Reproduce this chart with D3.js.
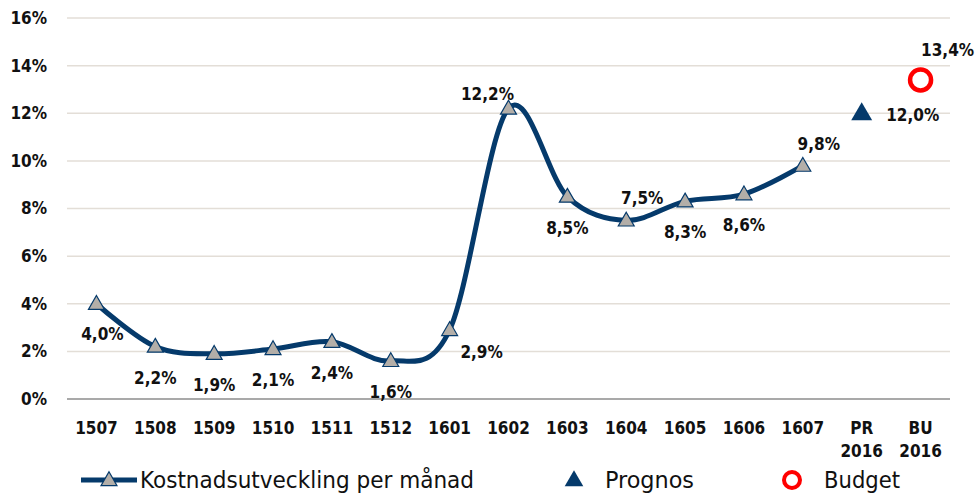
<!DOCTYPE html>
<html>
<head>
<meta charset="utf-8">
<script src="https://cdn.jsdelivr.net/npm/d3@7"></script>
<style>
  body { margin: 0; background: #fff; }
  text { font-family: "DejaVu Sans Condensed", "Liberation Sans Narrow", "Open Sans", sans-serif; }
</style>
</head>
<body>
<svg id="chart" width="976" height="495"></svg>
<script>
// categories (x axis), second line of label after "|"
var categories = ['1507','1508','1509','1510','1511','1512','1601','1602','1603','1604','1605','1606','1607','PR|2016','BU|2016'];
// monthly cost development, % (series 1)
var monthly = [4.0, 2.2, 1.9, 2.1, 2.4, 1.6, 2.9, 12.2, 8.5, 7.5, 8.3, 8.6, 9.8];
var prognos = 12.0;
var budget = 13.4;
var yTicks = [0, 2, 4, 6, 8, 10, 12, 14, 16];
// where each monthly label sits relative to its point
var labelPlace = ['bl','b','b','b','b','b','br','tl','b','tr','b','b','tr'];

var svg = d3.select('#chart');
var margin = {top: 18, right: 26, bottom: 96, left: 67};
var width = 976 - margin.left - margin.right;
var height = 495 - margin.top - margin.bottom;
var g = svg.append('g').attr('transform', 'translate(' + margin.left + ',' + margin.top + ')');

var x = d3.scaleBand().domain(categories).range([0, width]);
var y = d3.scaleLinear().domain([0, 16]).range([height, 0]);
var cx = function(i){ return x(categories[i]) + x.bandwidth() / 2; };
var fmt = function(v){ return v.toFixed(1).replace('.', ',') + '%'; };

// gridlines
g.selectAll('.grid').data(yTicks.filter(function(d){ return d > 0; }))
  .enter().append('line')
  .attr('x1', 0).attr('x2', width)
  .attr('y1', function(d){ return y(d); }).attr('y2', function(d){ return y(d); })
  .style('stroke', '#e3ded7').style('stroke-width', 1.5);

g.append('line').attr('x1', 0).attr('x2', width).attr('y1', y(0)).attr('y2', y(0))
  .style('stroke', '#8c8c8c').style('stroke-width', 1.5);

// y labels
g.selectAll('.ylab').data(yTicks).enter().append('text')
  .attr('x', -20).attr('y', function(d){ return y(d); })
  .attr('dy', '0.35em').attr('text-anchor', 'end')
  .style('font-weight', 'bold').style('font-size', '17px').style('fill', '#111')
  .text(function(d){ return d + '%'; });

// x labels
var xl = g.selectAll('.xlab').data(categories).enter().append('text')
  .attr('text-anchor', 'middle')
  .style('font-weight', 'bold').style('font-size', '17px').style('fill', '#111');
xl.each(function(d, i){
  var parts = d.split('|');
  var t = d3.select(this);
  parts.forEach(function(p, k){
    t.append('tspan').attr('x', cx(i)).attr('y', height + 35 + k * 23).text(p);
  });
});

// line
var line = d3.line()
  .x(function(d, i){ return cx(i); })
  .y(function(d){ return y(d); })
  .curve(d3.curveCatmullRom.alpha(0));
g.append('path').datum(monthly).attr('d', line)
  .style('fill', 'none').style('stroke', '#053a6b').style('stroke-width', 5);

var tri = d3.symbol().type(d3.symbolTriangle);
g.selectAll('.mk').data(monthly).enter().append('path')
  .attr('d', tri.size(110)())
  .attr('transform', function(d, i){ return 'translate(' + cx(i) + ',' + (y(d) + 1) + ')'; })
  .style('fill', '#b3aea8').style('stroke', '#053a6b').style('stroke-width', 1.2);

var offs = {b: [0, 31], bl: [6, 30], br: [32, 22], tl: [-21, -14], tr: [16, -22]};
g.selectAll('.lab').data(monthly).enter().append('text')
  .attr('x', function(d, i){ return cx(i) + offs[labelPlace[i]][0]; })
  .attr('y', function(d, i){ return y(d) + offs[labelPlace[i]][1]; })
  .attr('dy', '0.35em').attr('text-anchor', 'middle')
  .style('font-weight', 'bold').style('font-size', '17px').style('fill', '#111')
  .text(function(d){ return fmt(d); });

// prognos
g.append('path').attr('d', tri.size(190)())
  .attr('transform', 'translate(' + cx(13) + ',' + (y(prognos) + 1) + ')')
  .style('fill', '#053a6b');
g.append('text').attr('x', cx(13) + 51).attr('y', y(prognos) + 2).attr('dy', '0.35em')
  .attr('text-anchor', 'middle').style('font-weight', 'bold').style('font-size', '17px').style('fill', '#111')
  .text(fmt(prognos));

// budget
g.append('circle').attr('cx', cx(14)).attr('cy', y(budget)).attr('r', 10.5)
  .style('fill', '#fff').style('stroke', '#ff0000').style('stroke-width', 4.5);
g.append('text').attr('x', cx(14) + 27).attr('y', y(budget) - 30).attr('dy', '0.35em')
  .attr('text-anchor', 'middle').style('font-weight', 'bold').style('font-size', '17px').style('fill', '#111')
  .text(fmt(budget));

// legend
var lg = svg.append('g').attr('transform', 'translate(0,480)');
lg.append('line').attr('x1', 81).attr('x2', 137).attr('y1', 0).attr('y2', 0)
  .style('stroke', '#053a6b').style('stroke-width', 5);
lg.append('path').attr('d', tri.size(110)()).attr('transform', 'translate(109,1)')
  .style('fill', '#b3aea8').style('stroke', '#053a6b').style('stroke-width', 1.2);
lg.append('text').attr('x', 140).attr('y', 0).attr('dy', '0.35em')
  .attr('textLength', 334).attr('lengthAdjust', 'spacingAndGlyphs')
  .style('font-size', '23px').style('fill', '#111').text('Kostnadsutveckling per månad');
lg.append('path').attr('d', tri.size(150)()).attr('transform', 'translate(574,1)')
  .style('fill', '#053a6b');
lg.append('text').attr('x', 605).attr('y', 0).attr('dy', '0.35em')
  .attr('textLength', 89).attr('lengthAdjust', 'spacingAndGlyphs')
  .style('font-size', '23px').style('fill', '#111').text('Prognos');
lg.append('circle').attr('cx', 792).attr('cy', 0).attr('r', 8)
  .style('fill', '#fff').style('stroke', '#ff0000').style('stroke-width', 4);
lg.append('text').attr('x', 824).attr('y', 0).attr('dy', '0.35em')
  .attr('textLength', 76).attr('lengthAdjust', 'spacingAndGlyphs')
  .style('font-size', '23px').style('fill', '#111').text('Budget');
</script>
</body>
</html>
